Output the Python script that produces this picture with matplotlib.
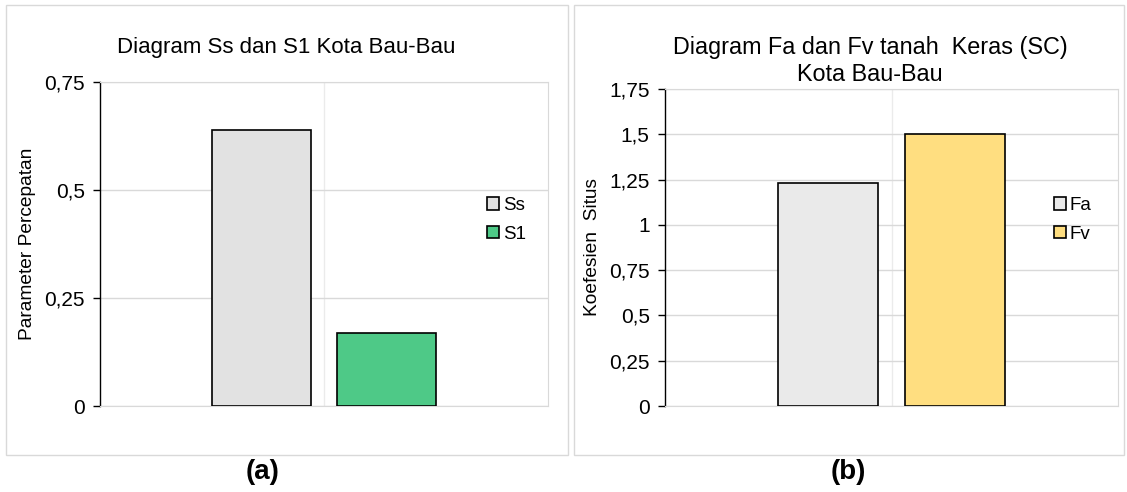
import matplotlib
matplotlib.use("Agg")
import matplotlib.pyplot as plt
from matplotlib.patches import Rectangle
from matplotlib.ticker import FixedLocator, FuncFormatter

plt.rcParams["font.family"] = ["Liberation Sans", "DejaVu Sans"]

# ---- data ----
left_series = ["Ss", "S1"]
left_values = [0.64, 0.17]
left_colors = ["#E2E2E2", "#4EC987"]
left_ticks = [0, 0.25, 0.5, 0.75]

right_series = ["Fa", "Fv"]
right_values = [1.23, 1.50]
right_colors = ["#EAEAEA", "#FFDE80"]
right_ticks = [0, 0.25, 0.5, 0.75, 1, 1.25, 1.5, 1.75]

W, H = 1127, 492
GRID = "#D9D9D9"
FS = 15

fig = plt.figure(figsize=(W / 100, H / 100), dpi=100)
fig.patch.set_facecolor("white")


def px_axes(x0, y0, x1, y1):
    # pixel box (top-left origin) -> figure axes
    return fig.add_axes([x0 / W, 1 - y1 / H, (x1 - x0) / W, (y1 - y0) / H])


def comma(v, _):
    return f"{v:g}".replace(".", ",")


def panel(ax, names, values, colors, ticks, ylabel, leg_x, leg_y):
    offs = [-0.14, 0.14]
    for name, v, c, o in zip(names, values, colors, offs):
        ax.bar(o, v, width=0.22, color=c, edgecolor="black", linewidth=1.2,
               label=name, zorder=3)
    ax.set_xlim(-0.5, 0.5)
    ax.set_ylim(ticks[0], ticks[-1])
    ax.yaxis.set_major_locator(FixedLocator(ticks))
    ax.yaxis.set_major_formatter(FuncFormatter(comma))
    ax.grid(axis="y", color=GRID, linewidth=1.0, zorder=0)
    ax.axvline(0, color="#EBEBEB", linewidth=1.0, zorder=0)
    ax.set_xticks([])
    for s in ["top", "right", "bottom"]:
        ax.spines[s].set_color(GRID)
    ax.spines["left"].set_color("black")
    ax.spines["left"].set_linewidth(1.0)
    ax.tick_params(axis="y", length=5, width=1, color="black", labelsize=FS, pad=6)
    ax.set_ylabel(ylabel, fontsize=13.8, labelpad=6)
    ax.legend(loc="center left", bbox_to_anchor=(leg_x, leg_y), frameon=False,
              fontsize=13.5, handlelength=0.64, handleheight=0.64,
              handletextpad=0.2, labelspacing=0.62, borderaxespad=0, borderpad=0)


# panel frames
fig.add_artist(Rectangle((6 / W, 1 - 455 / H), 562 / W, 450 / H, transform=fig.transFigure,
                         facecolor="none", edgecolor="#D9D9D9", linewidth=1.0))
fig.add_artist(Rectangle((574 / W, 1 - 455 / H), 550 / W, 450 / H, transform=fig.transFigure,
                         facecolor="none", edgecolor="#D9D9D9", linewidth=1.0))

ax1 = px_axes(100, 82, 548, 406)
panel(ax1, left_series, left_values, left_colors, left_ticks,
      "Parameter Percepatan", 0.864, 0.574)

ax2 = px_axes(665, 89, 1118, 406)
panel(ax2, right_series, right_values, right_colors, right_ticks,
      "Koefesien  Situs", 0.859, 0.587)

fig.text(286 / W, 1 - 48 / H, "Diagram Ss dan S1 Kota Bau-Bau", fontsize=16,
         ha="center", va="center")
fig.text(870 / W, 1 - 61 / H, "Diagram Fa dan Fv tanah  Keras (SC)\nKota Bau-Bau",
         fontsize=16.8, ha="center", va="center", linespacing=1.2)

fig.text(263 / W, 1 - 472 / H, "(a)", fontsize=20, fontweight="bold", ha="center", va="center")
fig.text(848 / W, 1 - 472 / H, "(b)", fontsize=20, fontweight="bold", ha="center", va="center")

fig.savefig("out.png", dpi=100, facecolor="white")
